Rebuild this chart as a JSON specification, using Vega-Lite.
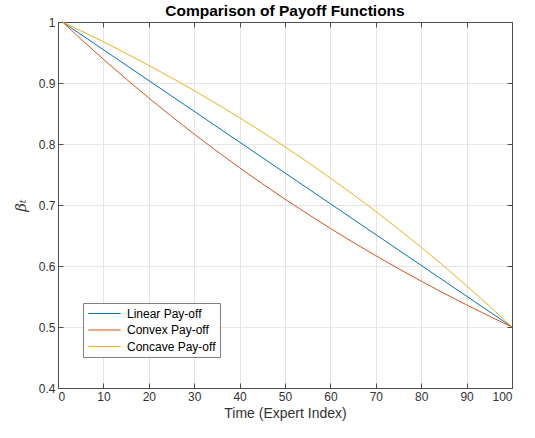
{
  "$schema": "https://vega.github.io/schema/vega-lite/v6.json",
  "width": 454,
  "height": 366,
  "autosize": {"type": "none"},
  "padding": {"left": 58, "top": 22, "right": 23, "bottom": 50},
  "background": "white",
  "config": {
    "font": "Liberation Sans",
    "view": {"stroke": "#4d4d4d", "strokeWidth": 1},
    "axis": {
      "gridColor": "#e6e6e6",
      "gridWidth": 1,
      "domainColor": "#4d4d4d",
      "tickColor": "#4d4d4d",
      "tickSize": -5,
      "labelFontSize": 12,
      "labelColor": "#333333",
      "titleFontSize": 14,
      "titleFontWeight": "normal",
      "titleColor": "#333333"
    }
  },
  "title": {"text": "Comparison of Payoff Functions", "fontSize": 15.5, "fontWeight": "bold", "color": "#000000", "offset": -3, "font": "Liberation Sans"},
  "data": {
    "values": [
      {"t": 1, "series": "Linear Pay-off", "beta": 1.0},
      {"t": 25, "series": "Linear Pay-off", "beta": 0.87879},
      {"t": 50, "series": "Linear Pay-off", "beta": 0.75253},
      {"t": 75, "series": "Linear Pay-off", "beta": 0.62626},
      {"t": 100, "series": "Linear Pay-off", "beta": 0.5},
      {"t": 1, "series": "Convex Pay-off", "beta": 1.0},
      {"t": 5, "series": "Convex Pay-off", "beta": 0.97238},
      {"t": 10, "series": "Convex Pay-off", "beta": 0.93893},
      {"t": 15, "series": "Convex Pay-off", "beta": 0.90663},
      {"t": 20, "series": "Convex Pay-off", "beta": 0.87544},
      {"t": 25, "series": "Convex Pay-off", "beta": 0.84532},
      {"t": 30, "series": "Convex Pay-off", "beta": 0.81624},
      {"t": 35, "series": "Convex Pay-off", "beta": 0.78816},
      {"t": 40, "series": "Convex Pay-off", "beta": 0.76104},
      {"t": 45, "series": "Convex Pay-off", "beta": 0.73486},
      {"t": 50, "series": "Convex Pay-off", "beta": 0.70958},
      {"t": 55, "series": "Convex Pay-off", "beta": 0.68517},
      {"t": 60, "series": "Convex Pay-off", "beta": 0.6616},
      {"t": 65, "series": "Convex Pay-off", "beta": 0.63884},
      {"t": 70, "series": "Convex Pay-off", "beta": 0.61686},
      {"t": 75, "series": "Convex Pay-off", "beta": 0.59564},
      {"t": 80, "series": "Convex Pay-off", "beta": 0.57515},
      {"t": 85, "series": "Convex Pay-off", "beta": 0.55536},
      {"t": 90, "series": "Convex Pay-off", "beta": 0.53626},
      {"t": 95, "series": "Convex Pay-off", "beta": 0.51781},
      {"t": 100, "series": "Convex Pay-off", "beta": 0.5},
      {"t": 1, "series": "Concave Pay-off", "beta": 1.0},
      {"t": 5, "series": "Concave Pay-off", "beta": 0.9858},
      {"t": 10, "series": "Concave Pay-off", "beta": 0.96748},
      {"t": 15, "series": "Concave Pay-off", "beta": 0.94851},
      {"t": 20, "series": "Concave Pay-off", "beta": 0.92886},
      {"t": 25, "series": "Concave Pay-off", "beta": 0.90851},
      {"t": 30, "series": "Concave Pay-off", "beta": 0.88744},
      {"t": 35, "series": "Concave Pay-off", "beta": 0.86561},
      {"t": 40, "series": "Concave Pay-off", "beta": 0.84301},
      {"t": 45, "series": "Concave Pay-off", "beta": 0.8196},
      {"t": 50, "series": "Concave Pay-off", "beta": 0.79536},
      {"t": 55, "series": "Concave Pay-off", "beta": 0.77025},
      {"t": 60, "series": "Concave Pay-off", "beta": 0.74425},
      {"t": 65, "series": "Concave Pay-off", "beta": 0.71733},
      {"t": 70, "series": "Concave Pay-off", "beta": 0.68944},
      {"t": 75, "series": "Concave Pay-off", "beta": 0.66057},
      {"t": 80, "series": "Concave Pay-off", "beta": 0.63066},
      {"t": 85, "series": "Concave Pay-off", "beta": 0.59969},
      {"t": 90, "series": "Concave Pay-off", "beta": 0.56761},
      {"t": 95, "series": "Concave Pay-off", "beta": 0.53439},
      {"t": 100, "series": "Concave Pay-off", "beta": 0.5}
    ]
  },
  "resolve": {"axis": {"x": "independent", "y": "independent"}},
  "layer": [
    {
      "mark": {"type": "line", "strokeWidth": 1, "interpolate": "monotone"},
      "encoding": {
        "x": {
          "field": "t", "type": "quantitative",
          "scale": {"domain": [0, 100], "nice": false},
          "axis": {"values": [0, 10, 20, 30, 40, 50, 60, 70, 80, 90, 100], "grid": true, "title": "Time (Expert Index)", "labelPadding": 8, "titlePadding": 4}
        },
        "y": {
          "field": "beta", "type": "quantitative",
          "scale": {"domain": [0.4, 1], "nice": false, "zero": false},
          "axis": {"values": [0.4, 0.5, 0.6, 0.7, 0.8, 0.9, 1], "grid": true, "format": ".1~f", "title": "βₜ", "titleFont": "DejaVu Serif", "titleFontStyle": "italic", "titleFontSize": 15, "labelPadding": 8, "titlePadding": 10}
        },
        "color": {
          "field": "series", "type": "nominal",
          "scale": {"domain": ["Linear Pay-off", "Convex Pay-off", "Concave Pay-off"], "range": ["#0072BD", "#D95319", "#EDB120"]},
          "legend": {
            "title": null, "orient": "none", "legendX": 25, "legendY": 281,
            "symbolType": "M-2.7,0H2.7", "symbolSize": 144, "symbolStrokeWidth": 1, "symbolOffset": 11,
            "labelOffset": 16, "labelFontSize": 12, "labelColor": "#000000", "rowPadding": 3.5,
            "strokeColor": "#808080", "fillColor": "white", "padding": 4
          }
        }
      }
    },
    {
      "mark": {"type": "line", "strokeWidth": 1, "opacity": 0},
      "encoding": {
        "x": {
          "field": "t", "type": "quantitative",
          "scale": {"domain": [0, 100], "nice": false},
          "axis": {"orient": "top", "values": [0, 10, 20, 30, 40, 50, 60, 70, 80, 90, 100], "labels": false, "title": null, "grid": false}
        },
        "y": {
          "field": "beta", "type": "quantitative",
          "scale": {"domain": [0.4, 1], "nice": false, "zero": false},
          "axis": {"orient": "right", "values": [0.4, 0.5, 0.6, 0.7, 0.8, 0.9, 1], "labels": false, "title": null, "grid": false}
        },
        "detail": {"field": "series"}
      }
    }
  ]
}
